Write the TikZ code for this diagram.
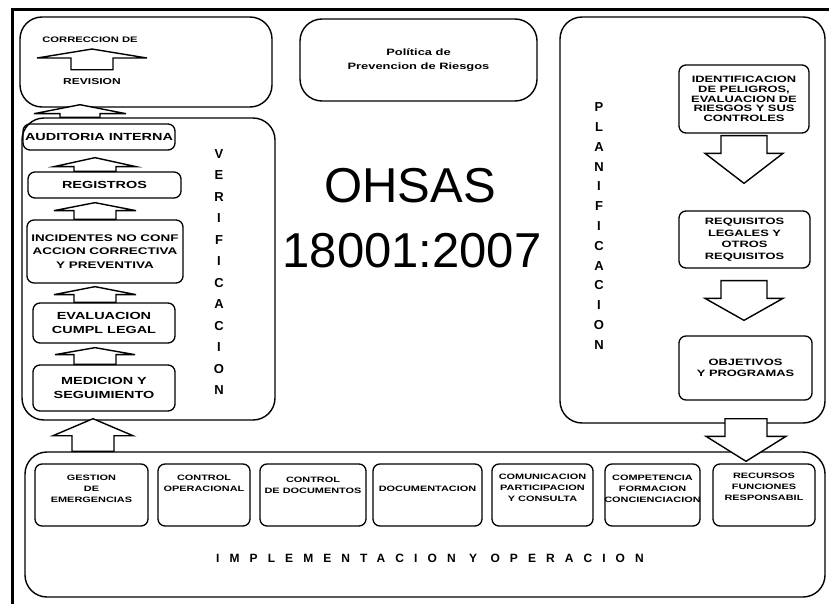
\documentclass[tikz,border=0pt]{standalone}
\usepackage{fontspec}
\setmainfont{Liberation Sans}
\newfontfamily\wfont[FakeStretch=1.4]{Liberation Sans}
\newfontfamily\spfont[LetterSpace=84]{Liberation Sans}
\usetikzlibrary{calc}
% block arrow: #1 x (px), #2 base coordinate, #3 tip coordinate, #4 shaft half width, #5 head half width, #6 head length (positive = upward)
\newcommand\blkarrow[6]{\draw[blk] let \p1=(#2), \p2=(#3) in
 ({#1pt-#4pt},\y1) -- ({#1pt-#4pt},{\y2-(#6pt)}) -- ({#1pt-#5pt},{\y2-(#6pt)}) -- (#1pt,\y2)
 -- ({#1pt+#5pt},{\y2-(#6pt)}) -- ({#1pt+#4pt},{\y2-(#6pt)}) -- ({#1pt+#4pt},\y1) -- cycle;}
% box node from (x1,y1) to (x2,y2)
\newcommand\boxnode[7]{\node[#6, minimum width={#4pt-#2pt}, minimum height={#5pt-#3pt}] (#1) at ({(#2+#4)/2},{(#3+#5)/2}) {#7};}
\begin{document}
\begin{tikzpicture}[x=1pt,y=-1pt,
  blk/.style={draw=black, line width=1.4pt, fill=white, line join=miter},
  bigbox/.style={draw, line width=1.4pt, rounded corners=22pt, inner sep=0pt},
  sbox/.style={draw, line width=1.3pt, rounded corners=7pt, inner sep=0pt, align=center},
  vtxt/.style={font=\wfont\bfseries\fontsize{10.3}{14}\selectfont},
  ptxt/.style={font=\wfont\bfseries\fontsize{9.2}{9.6}\selectfont},
  itxt/.style={inner sep=0pt, align=center, font=\wfont\bfseries\fontsize{7.8}{11.2}\selectfont},
  lbl/.style={inner sep=1pt, align=center, font=\wfont\bfseries\fontsize{8.6}{10}\selectfont},
  colword/.style={inner sep=0pt, align=center, font=\bfseries\fontsize{13}{21.5}\selectfont}
]
\useasboundingbox (0,0) rectangle (829,604);
\fill[white] (0,0) rectangle (829,604);
% outer frame (top and left)
\draw[line width=3pt] (12,604) -- (12,10) -- (829,10);

% ---------- big containers ----------
\boxnode{rev}{20}{17}{272}{107}{bigbox}{}
\boxnode{ver}{22}{118}{275}{420}{bigbox}{}
\boxnode{pol}{300}{19}{537}{101}{bigbox, align=center, font=\wfont\bfseries\fontsize{9.2}{14}\selectfont}{Política de\\Prevencion de Riesgos}
\boxnode{plan}{560}{17}{825}{423}{bigbox}{}
\boxnode{impl}{25}{452}{825}{597}{bigbox}{}

% ---------- revision box content ----------
\node[lbl, font=\wfont\bfseries\fontsize{8}{10}\selectfont] (corr) at (90,40) {CORRECCION DE};
\node[lbl] (revtxt) at (92,82) {REVISION};

% ---------- verification ----------
\boxnode{aud}{23}{124}{175}{150}{sbox,vtxt}{AUDITORIA INTERNA}
\boxnode{reg}{28}{172}{181}{198}{sbox,vtxt}{REGISTROS}
\boxnode{inc}{27}{220}{183}{283}{sbox,vtxt,font=\wfont\bfseries\fontsize{9.6}{13.5}\selectfont}{INCIDENTES NO CONF\\ACCION CORRECTIVA\\Y PREVENTIVA}
\boxnode{eva}{33}{303}{175}{343}{sbox,vtxt}{EVALUACION\\CUMPL LEGAL}
\boxnode{med}{33}{365}{175}{411}{sbox,vtxt}{MEDICION Y\\SEGUIMIENTO}
\node[colword] (verw) at (219,272) {V\\E\\R\\I\\F\\I\\C\\A\\C\\I\\O\\N};

% ---------- planning ----------
\boxnode{ident}{679}{65}{809}{133}{sbox,ptxt}{IDENTIFICACION\\DE PELIGROS,\\EVALUACION DE\\RIESGOS Y SUS\\CONTROLES}
\boxnode{req}{679}{211}{810}{268}{sbox,ptxt,font=\wfont\bfseries\fontsize{9.2}{11.5}\selectfont}{REQUISITOS\\LEGALES Y\\OTROS\\REQUISITOS}
\boxnode{obj}{679}{336}{812}{400}{sbox,ptxt,font=\wfont\bfseries\fontsize{9.2}{11}\selectfont}{OBJETIVOS\\Y PROGRAMAS}
\node[colword, font=\bfseries\fontsize{13}{19.8}\selectfont] (planw) at (599,226) {P\\L\\A\\N\\I\\F\\I\\C\\A\\C\\I\\O\\N};

% ---------- centre title ----------
\node[inner sep=0pt, font=\fontsize{49}{50}\selectfont] (t1) at (410,186) {OHSAS};
\node[inner sep=0pt, font=\fontsize{49}{50}\selectfont] (t2) at (412,251) {18001:2007};

% ---------- implementation ----------
\boxnode{i1}{35}{464}{148}{526}{sbox}{}
\boxnode{i2}{158}{464}{250}{526}{sbox}{}
\boxnode{i3}{260}{464}{366}{526}{sbox}{}
\boxnode{i4}{373}{464}{482}{526}{sbox}{}
\boxnode{i5}{492}{464}{593}{526}{sbox}{}
\boxnode{i6}{605}{464}{700}{526}{sbox}{}
\boxnode{i7}{713}{464}{815}{526}{sbox}{}
\node[itxt, anchor=north] (i1t) at ([yshift=-11pt]i1.north) {GESTION\\DE\\EMERGENCIAS};
\node[itxt, anchor=north] (i2t) at ([yshift=-11pt]i2.north) {CONTROL\\OPERACIONAL};
\node[itxt, anchor=north] (i3t) at ([yshift=-13pt]i3.north) {CONTROL\\DE DOCUMENTOS};
\node[itxt, anchor=north] (i4t) at ([yshift=-22pt]i4.north) {DOCUMENTACION};
\node[itxt, anchor=north] (i5t) at ([yshift=-10pt]i5.north) {COMUNICACION\\PARTICIPACION\\Y CONSULTA};
\node[itxt, anchor=north] (i6t) at ([yshift=-11pt]i6.north) {COMPETENCIA\\FORMACION\\CONCIENCIACION};
\node[itxt, anchor=north] (i7t) at ([yshift=-9pt]i7.north) {RECURSOS\\FUNCIONES\\RESPONSABIL};
\node[inner sep=0pt, font=\spfont\bfseries\fontsize{12}{13}\selectfont] (implw) at (430,558) {IMPLEMENTACION Y OPERACION};

% ---------- block arrows ----------
\blkarrow{92}{[yshift=8pt]revtxt.north}{[yshift=-5pt]corr.south}{21}{55}{9}
\blkarrow{80}{ver.north}{[yshift=3pt]rev.south}{20}{46}{9}
\blkarrow{95}{reg.north}{[yshift=-7pt]aud.south}{21}{41}{9}
\blkarrow{95}{inc.north}{[yshift=-4pt]reg.south}{21}{41}{8}
\blkarrow{95}{eva.north}{[yshift=-3pt]inc.south}{21}{41}{8}
\blkarrow{95}{med.north}{[yshift=-4pt]eva.south}{21}{40}{7}
\blkarrow{93}{impl.north}{[yshift=2pt]ver.south}{21}{40}{17}
\blkarrow{744}{[yshift=-2pt]ident.south}{[yshift=27pt]req.north}{23}{39}{-30}
\blkarrow{744}{[yshift=-12pt]req.south}{[yshift=15pt]obj.north}{23}{39}{-22}
\blkarrow{746}{[yshift=5pt]plan.south}{[yshift=-10pt]impl.north}{21}{40}{-25}
\end{tikzpicture}
\end{document}
